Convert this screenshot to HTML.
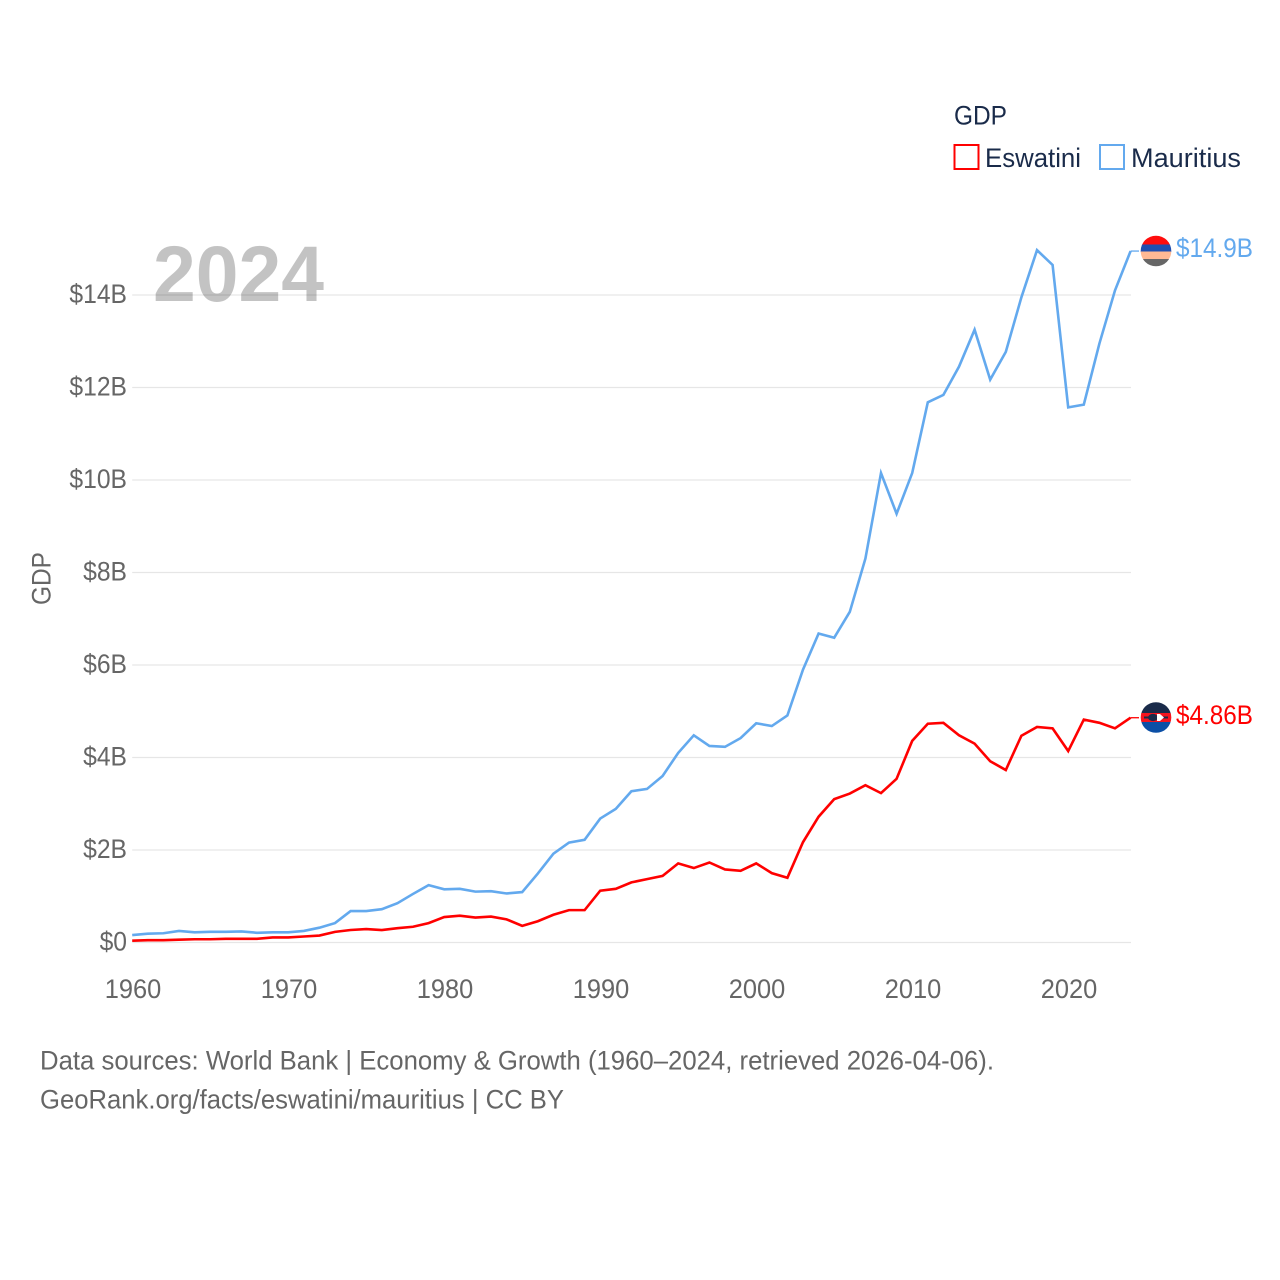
<!DOCTYPE html>
<html lang="en">
<head>
<meta charset="utf-8">
<title>GDP: Eswatini and Mauritius</title>
<style>
html,body{margin:0;padding:0;background:#fff;}
svg{display:block;font-family:"Liberation Sans",sans-serif;}
</style>
</head>
<body>
<svg id="chart" xmlns="http://www.w3.org/2000/svg" width="1280" height="1280" viewBox="0 0 1280 1280">
  <defs>
    <clipPath id="flag-clip-a"><circle cx="1156" cy="251" r="15.3"/></clipPath>
    <clipPath id="flag-clip-b"><circle cx="1156" cy="717.5" r="15.3"/></clipPath>
  </defs>
  <rect width="1280" height="1280" fill="#fff"/>
  <g id="grid"></g>
  <g id="ytick-labels"></g>
  <g id="xtick-labels"></g>
  <text x="153" y="301" font-size="79" font-weight="700" fill="#000" fill-opacity="0.235" textLength="171" lengthAdjust="spacingAndGlyphs">2024</text>
  <text transform="translate(50.5 578.5) rotate(-90)" text-anchor="middle" font-size="26.5" fill="#666" textLength="53" lengthAdjust="spacingAndGlyphs">GDP</text>
  <g id="series"></g>

  <g clip-path="url(#flag-clip-a)">
    <rect x="1140" y="235" width="32" height="10" fill="#ff0d0d"/>
    <rect x="1140" y="244.5" width="32" height="7.5" fill="#1f4fb0"/>
    <rect x="1140" y="251.5" width="32" height="8" fill="#ffb994"/>
    <rect x="1140" y="259" width="32" height="8" fill="#666"/>
  </g>
  <g clip-path="url(#flag-clip-b)">
    <rect x="1140" y="702" width="32" height="12" fill="#1a2b4a"/>
    <rect x="1140" y="713" width="32" height="9" fill="#f5141e"/>
    <rect x="1140" y="722" width="32" height="12" fill="#0b4fa6"/>
    <rect x="1144" y="716.5" width="24" height="2" fill="#1a2b4a"/>
    <ellipse cx="1153" cy="717.5" rx="5" ry="3.6" fill="#1a2b4a"/>
    <path d="M1157 714 H1160 L1164 717.5 L1160 721 H1157 Z" fill="#fff"/>
  </g>

  <text id="label-mauritius" x="1176" y="257" font-size="26.5" fill="#63a9ee" textLength="77" lengthAdjust="spacingAndGlyphs"></text>
  <text id="label-eswatini" x="1176" y="724" font-size="26.5" fill="#ff0000" textLength="77" lengthAdjust="spacingAndGlyphs"></text>

  <g>
    <text x="954" y="124.5" font-size="26.5" fill="#1a2b4a" textLength="53" lengthAdjust="spacingAndGlyphs">GDP</text>
    <g>
      <rect x="954.5" y="145" width="24" height="24" fill="#fff" stroke="#ff0000" stroke-width="2"/>
      <text x="985" y="167" font-size="26.5" fill="#1a2b4a" textLength="96" lengthAdjust="spacingAndGlyphs">Eswatini</text>
    </g>
    <g>
      <rect x="1100" y="145" width="24" height="24" fill="#fff" stroke="#63a9ee" stroke-width="2"/>
      <text x="1131" y="167" font-size="26.5" fill="#1a2b4a" textLength="110" lengthAdjust="spacingAndGlyphs">Mauritius</text>
    </g>
  </g>

  <text x="40" y="1069.5" font-size="26.5" fill="#666" textLength="954" lengthAdjust="spacingAndGlyphs">Data sources: World Bank | Economy &amp; Growth (1960–2024, retrieved 2026-04-06).</text>
  <text x="40" y="1108.5" font-size="26.5" fill="#666" textLength="524" lengthAdjust="spacingAndGlyphs">GeoRank.org/facts/eswatini/mauritius | CC BY</text>
</svg>
<script>
const years = [1960,1961,1962,1963,1964,1965,1966,1967,1968,1969,1970,1971,1972,1973,1974,1975,1976,1977,1978,1979,1980,1981,1982,1983,1984,1985,1986,1987,1988,1989,1990,1991,1992,1993,1994,1995,1996,1997,1998,1999,2000,2001,2002,2003,2004,2005,2006,2007,2008,2009,2010,2011,2012,2013,2014,2015,2016,2017,2018,2019,2020,2021,2022,2023,2024];
const mauritius = [0.16,0.19,0.20,0.25,0.22,0.23,0.23,0.24,0.21,0.22,0.22,0.25,0.32,0.42,0.68,0.68,0.72,0.85,1.05,1.24,1.15,1.16,1.10,1.11,1.06,1.09,1.49,1.92,2.16,2.22,2.68,2.89,3.27,3.32,3.60,4.10,4.48,4.25,4.23,4.42,4.74,4.68,4.91,5.90,6.68,6.59,7.15,8.30,10.15,9.27,10.15,11.68,11.84,12.45,13.25,12.17,12.77,13.95,14.97,14.65,11.57,11.63,12.95,14.10,14.95];
const eswatini = [0.04,0.05,0.05,0.06,0.07,0.07,0.08,0.08,0.08,0.11,0.11,0.13,0.15,0.23,0.27,0.29,0.27,0.31,0.34,0.42,0.55,0.58,0.54,0.56,0.50,0.36,0.46,0.60,0.70,0.70,1.12,1.16,1.30,1.37,1.44,1.71,1.61,1.73,1.58,1.55,1.71,1.50,1.40,2.17,2.72,3.10,3.22,3.40,3.23,3.54,4.36,4.73,4.75,4.48,4.30,3.92,3.73,4.47,4.66,4.63,4.14,4.82,4.75,4.63,4.86];
const yTicks = [0,2,4,6,8,10,12,14];
const yTickLabels = ["$0","$2B","$4B","$6B","$8B","$10B","$12B","$14B"];
const xTicks = [1960,1970,1980,1990,2000,2010,2020];
const endLabelMauritius = "$14.9B";
const endLabelEswatini = "$4.86B";

const NS = 'http://www.w3.org/2000/svg';
const xScale = function (year) { return 132.2 + (year - 1960) * 15.6; };
const yScale = function (value) { return 942.5 - value * 46.25; };
const PLOT_RIGHT = 1131;

const gridGroup = document.getElementById('grid');
const yLabelGroup = document.getElementById('ytick-labels');
const xLabelGroup = document.getElementById('xtick-labels');
const seriesGroup = document.getElementById('series');

yTicks.forEach(function (tick, i) {
  const line = document.createElementNS(NS, 'line');
  
  
  line.setAttribute('x1', xScale(1960));
  line.setAttribute('x2', PLOT_RIGHT);
  line.setAttribute('y1', yScale(tick));
  line.setAttribute('y2', yScale(tick));
  line.setAttribute('stroke', '#e6e6e6');
  line.setAttribute('stroke-width', '1.3');
  gridGroup.appendChild(line);

  const label = document.createElementNS(NS, 'text');
  
  
  label.setAttribute('x', 127);
  label.setAttribute('y', yScale(tick) + 8);
  label.setAttribute('text-anchor', 'end');
  label.setAttribute('font-size', '26.5');
  label.setAttribute('fill', '#666');
  label.textContent = yTickLabels[i];
  yLabelGroup.appendChild(label);
  label.setAttribute('lengthAdjust', 'spacingAndGlyphs');
  label.setAttribute('textLength', (label.getComputedTextLength() * 0.93).toFixed(1));
});

xTicks.forEach(function (tick) {
  const label = document.createElementNS(NS, 'text');
  
  
  label.setAttribute('x', xScale(tick) + 0.8);
  label.setAttribute('y', 998);
  label.setAttribute('text-anchor', 'middle');
  label.setAttribute('font-size', '26.5');
  label.setAttribute('fill', '#666');
  label.setAttribute('lengthAdjust', 'spacingAndGlyphs');
  label.setAttribute('textLength', '56.5');
  label.textContent = String(tick);
  xLabelGroup.appendChild(label);
});

function linePath(values) {
  return values.map(function (v, i) {
    return (i ? 'L' : 'M') + xScale(years[i]).toFixed(2) + ' ' + yScale(v).toFixed(2);
  }).join(' ');
}

const eswatiniLine = document.createElementNS(NS, 'path');


eswatiniLine.setAttribute('d', linePath(eswatini));
eswatiniLine.setAttribute('fill', 'none');
eswatiniLine.setAttribute('stroke', '#ff0000');
eswatiniLine.setAttribute('stroke-width', '2.6');
seriesGroup.appendChild(eswatiniLine);

const mauritiusLine = document.createElementNS(NS, 'path');


mauritiusLine.setAttribute('d', linePath(mauritius));
mauritiusLine.setAttribute('fill', 'none');
mauritiusLine.setAttribute('stroke', '#63a9ee');
mauritiusLine.setAttribute('stroke-width', '2.6');
seriesGroup.appendChild(mauritiusLine);

const lastIndex = years.length - 1;
const eswatiniLeader = document.createElementNS(NS, 'line');


eswatiniLeader.setAttribute('x1', xScale(years[lastIndex]));
eswatiniLeader.setAttribute('x2', 1139);
eswatiniLeader.setAttribute('y1', yScale(eswatini[lastIndex]));
eswatiniLeader.setAttribute('y2', yScale(eswatini[lastIndex]));
eswatiniLeader.setAttribute('stroke', '#ff0000');
eswatiniLeader.setAttribute('stroke-width', '1.3');
seriesGroup.appendChild(eswatiniLeader);

const mauritiusLeader = document.createElementNS(NS, 'line');


mauritiusLeader.setAttribute('x1', xScale(years[lastIndex]));
mauritiusLeader.setAttribute('x2', 1139);
mauritiusLeader.setAttribute('y1', yScale(mauritius[lastIndex]));
mauritiusLeader.setAttribute('y2', yScale(mauritius[lastIndex]));
mauritiusLeader.setAttribute('stroke', '#63a9ee');
mauritiusLeader.setAttribute('stroke-width', '1.3');
seriesGroup.appendChild(mauritiusLeader);

document.getElementById('label-mauritius').textContent = endLabelMauritius;
document.getElementById('label-eswatini').textContent = endLabelEswatini;
</script>
</body>
</html>
